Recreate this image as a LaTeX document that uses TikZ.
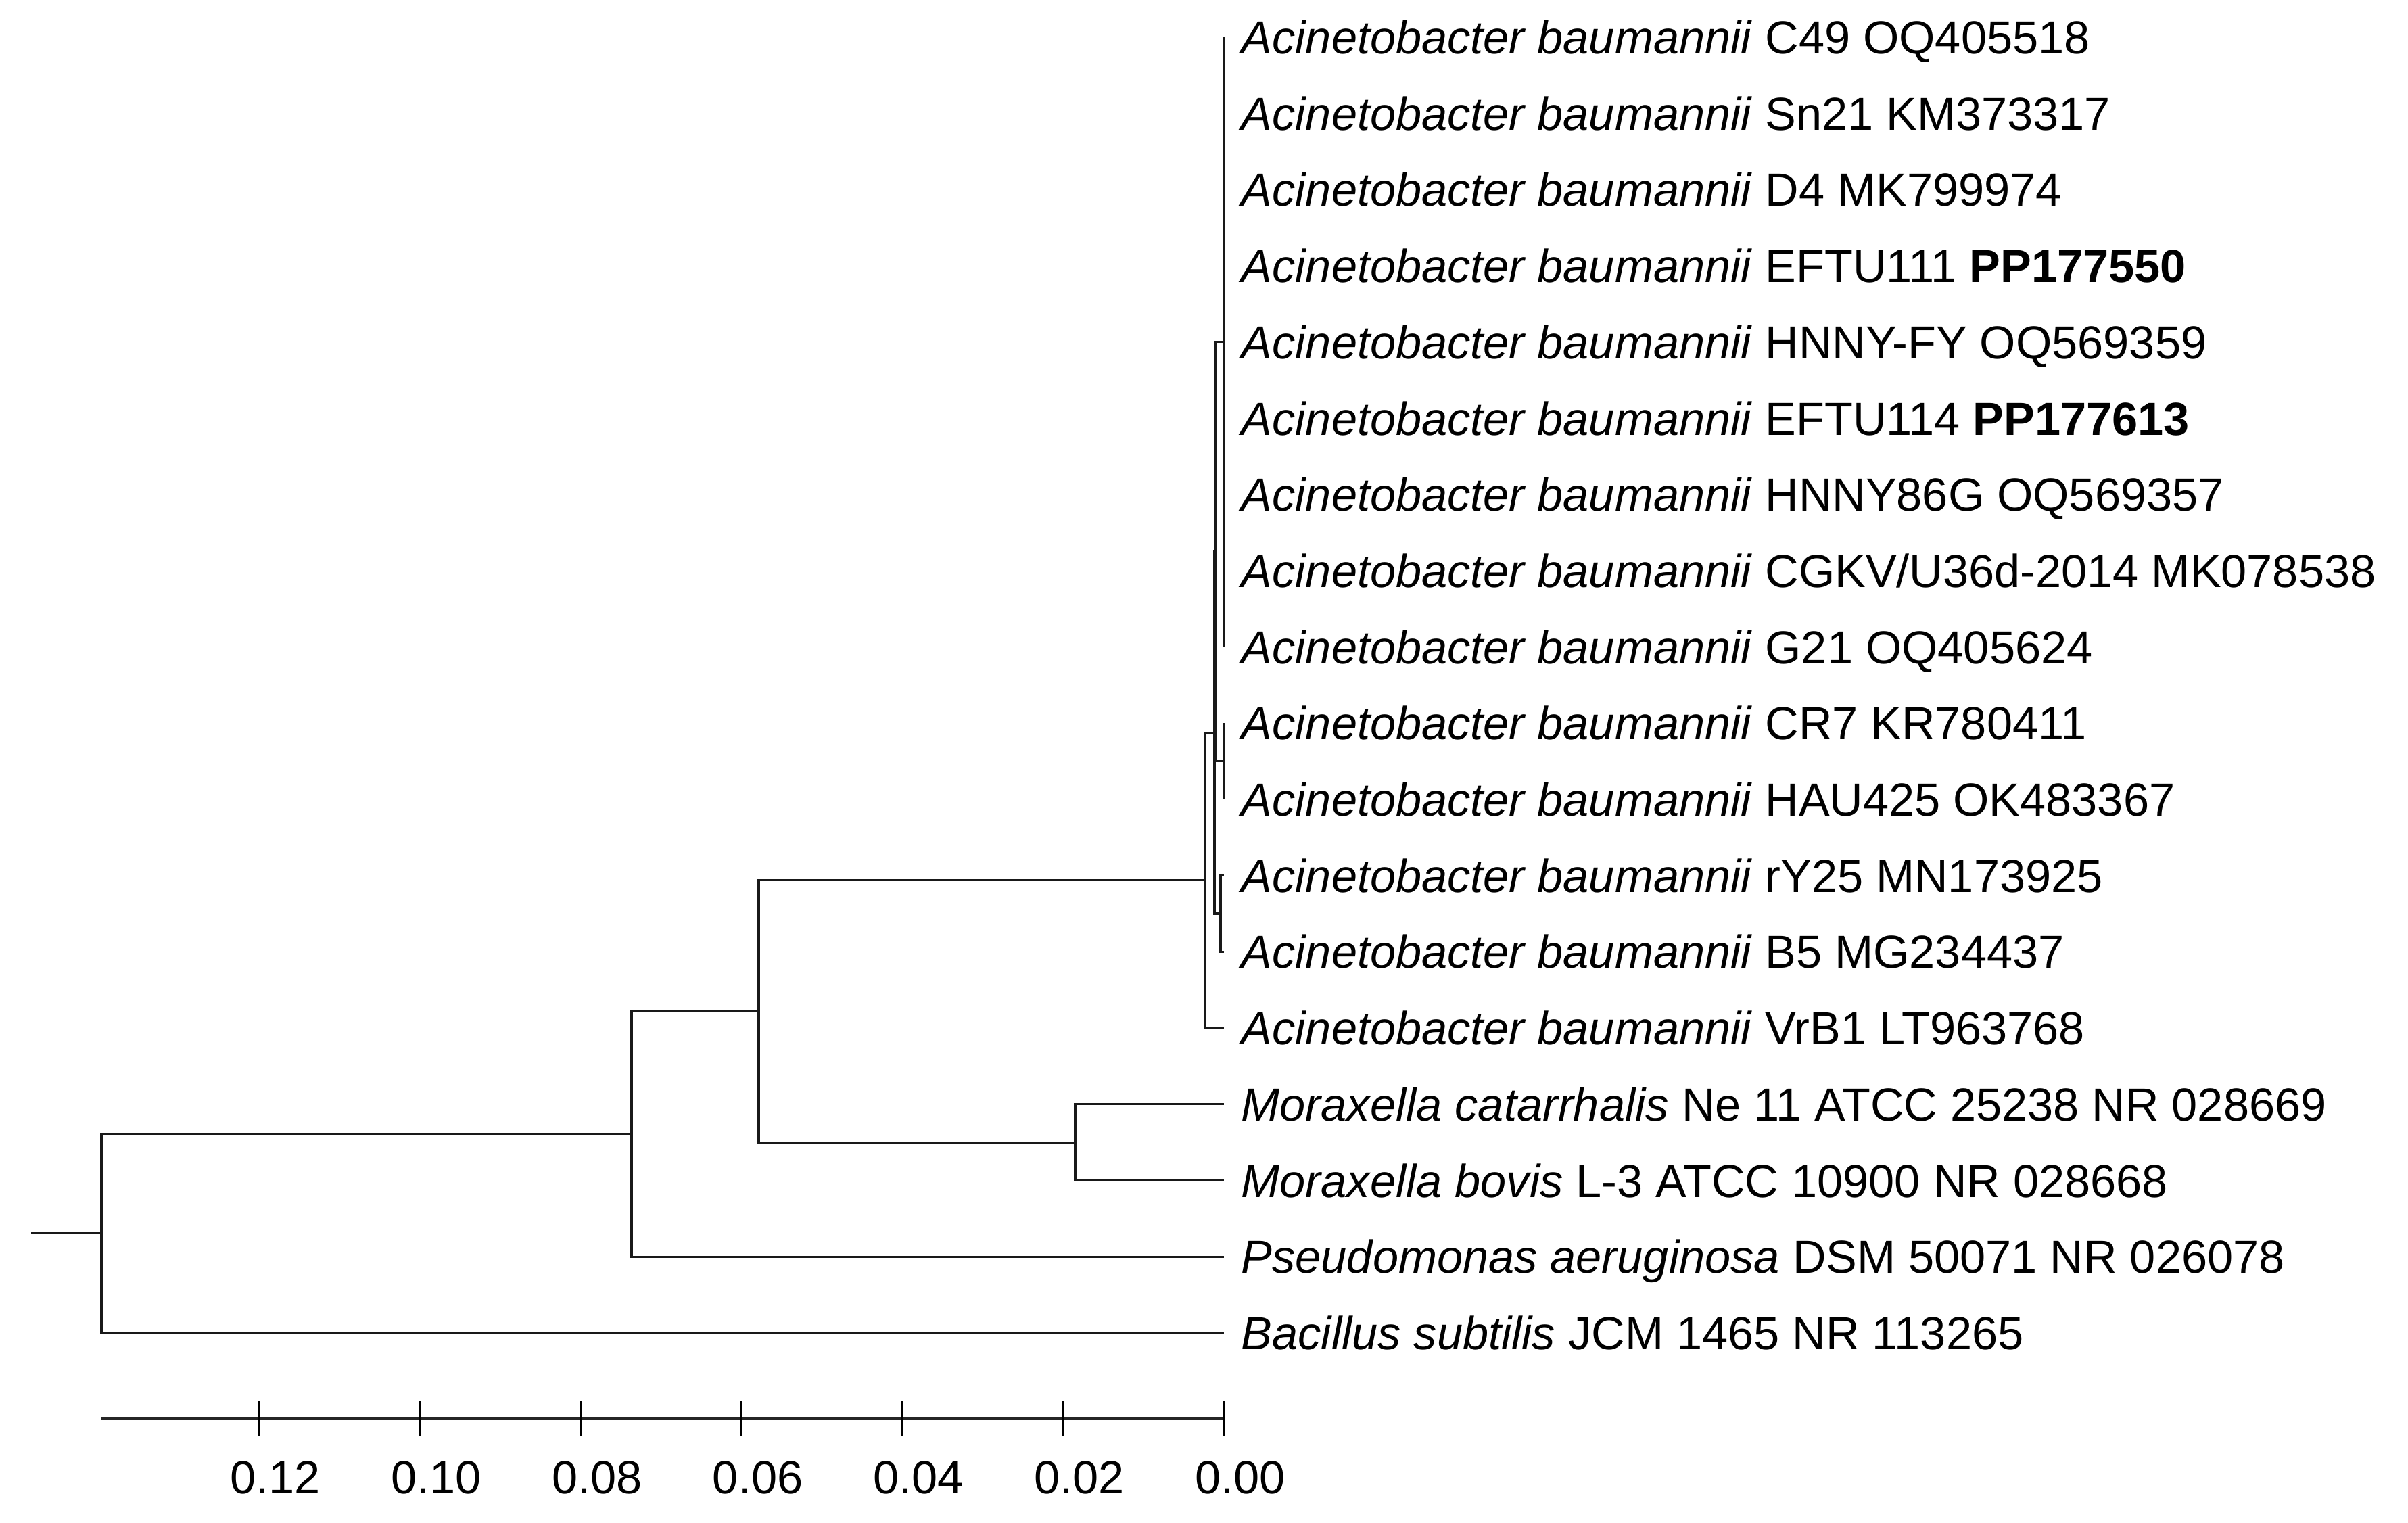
\documentclass[tikz,border=0pt]{standalone}
\usepackage{fontspec}
\setmainfont{Liberation Sans}
\usetikzlibrary{positioning}
\tikzstyle{taxon} = [anchor=west, inner sep=0pt, text height=13.96pt, text depth=0pt, font=\fontsize{19.5}{23}\selectfont]
\tikzstyle{branch_line} = [line width=0.9pt, black!90]
\tikzstyle{scale_bar} = [line width=1.3pt, black!85]
\tikzstyle{scale_tick} = [line width=0.7pt, black]
\tikzstyle{scale_label} = [inner sep=0pt, font=\fontsize{19.5}{23}\selectfont]

\begin{document}
\begin{tikzpicture}
    \useasboundingbox (0,0) rectangle (35.61,-22.52);

    % leaf tips
    \coordinate (t_c49) at (18.10,-0.55);
    \coordinate (t_sn21) at (18.10,-1.677);
    \coordinate (t_d4) at (18.10,-2.804);
    \coordinate (t_eftu111) at (18.10,-3.931);
    \coordinate (t_hnnyfy) at (18.10,-5.058);
    \coordinate (t_eftu114) at (18.10,-6.185);
    \coordinate (t_hnny86g) at (18.10,-7.312);
    \coordinate (t_cgkv) at (18.10,-8.439);
    \coordinate (t_g21) at (18.10,-9.566);
    \coordinate (t_cr7) at (18.10,-10.693);
    \coordinate (t_hau425) at (18.10,-11.82);
    \coordinate (t_ry25) at (18.10,-12.947);
    \coordinate (t_b5) at (18.10,-14.074);
    \coordinate (t_vrb1) at (18.10,-15.201);
    \coordinate (t_mcat) at (18.10,-16.328);
    \coordinate (t_mbov) at (18.10,-17.455);
    \coordinate (t_paer) at (18.10,-18.582);
    \coordinate (t_bsub) at (18.10,-19.709);

    % internal nodes
    \coordinate (n_d) at (18.10,-5.058);
    \coordinate (n_f) at (18.10,-11.2565);
    \coordinate (n_c) at (17.98,-8.157);
    \coordinate (n_e) at (18.05,-13.5105);
    \coordinate (n_b) at (17.96,-10.834);
    \coordinate (n_a) at (17.82,-13.0175);
    \coordinate (n_mor) at (15.90,-16.8915);
    \coordinate (n_2) at (11.22,-14.9545);
    \coordinate (n_1) at (9.34,-16.768);
    \coordinate (n_r) at (1.50,-18.2385);
    \coordinate (root) at (0.46,-18.2385);

    % taxa
    \node (ab_c49) [taxon, right=0.25cm of t_c49] {\textit{Acinetobacter baumannii} C49 OQ405518};
    \node (ab_sn21) [taxon, right=0.25cm of t_sn21] {\textit{Acinetobacter baumannii} Sn21 KM373317};
    \node (ab_d4) [taxon, right=0.25cm of t_d4] {\textit{Acinetobacter baumannii} D4 MK799974};
    \node (ab_eftu111) [taxon, right=0.25cm of t_eftu111] {\textit{Acinetobacter baumannii} EFTU111 \textbf{PP177550}};
    \node (ab_hnnyfy) [taxon, right=0.25cm of t_hnnyfy] {\textit{Acinetobacter baumannii} HNNY-FY OQ569359};
    \node (ab_eftu114) [taxon, right=0.25cm of t_eftu114] {\textit{Acinetobacter baumannii} EFTU114 \textbf{PP177613}};
    \node (ab_hnny86g) [taxon, right=0.25cm of t_hnny86g] {\textit{Acinetobacter baumannii} HNNY86G OQ569357};
    \node (ab_cgkv) [taxon, right=0.25cm of t_cgkv] {\textit{Acinetobacter baumannii} CGKV/U36d-2014 MK078538};
    \node (ab_g21) [taxon, right=0.25cm of t_g21] {\textit{Acinetobacter baumannii} G21 OQ405624};
    \node (ab_cr7) [taxon, right=0.25cm of t_cr7] {\textit{Acinetobacter baumannii} CR7 KR780411};
    \node (ab_hau425) [taxon, right=0.25cm of t_hau425] {\textit{Acinetobacter baumannii} HAU425 OK483367};
    \node (ab_ry25) [taxon, right=0.25cm of t_ry25] {\textit{Acinetobacter baumannii} rY25 MN173925};
    \node (ab_b5) [taxon, right=0.25cm of t_b5] {\textit{Acinetobacter baumannii} B5 MG234437};
    \node (ab_vrb1) [taxon, right=0.25cm of t_vrb1] {\textit{Acinetobacter baumannii} VrB1 LT963768};
    \node (m_cat) [taxon, right=0.25cm of t_mcat] {\textit{Moraxella catarrhalis} Ne 11 ATCC 25238 NR 028669};
    \node (m_bov) [taxon, right=0.25cm of t_mbov] {\textit{Moraxella bovis} L-3 ATCC 10900 NR 028668};
    \node (p_aer) [taxon, right=0.25cm of t_paer] {\textit{Pseudomonas aeruginosa} DSM 50071 NR 026078};
    \node (b_sub) [taxon, right=0.25cm of t_bsub] {\textit{Bacillus subtilis} JCM 1465 NR 113265};

    % branches
    \draw [branch_line] (root) -- (n_r);
    \draw [branch_line] (n_r) |- (n_1);
    \draw [branch_line] (n_r) |- (t_bsub);
    \draw [branch_line] (n_1) |- (n_2);
    \draw [branch_line] (n_1) |- (t_paer);
    \draw [branch_line] (n_2) |- (n_a);
    \draw [branch_line] (n_2) |- (n_mor);
    \draw [branch_line] (n_mor) |- (t_mcat);
    \draw [branch_line] (n_mor) |- (t_mbov);
    \draw [branch_line] (n_a) |- (n_b);
    \draw [branch_line] (n_a) |- (t_vrb1);
    \draw [branch_line] (n_b) |- (n_c);
    \draw [branch_line] (n_b) |- (n_e);
    \draw [branch_line] (n_c) |- (n_d);
    \draw [branch_line] (n_c) |- (n_f);
    \foreach \t in {t_c49,t_sn21,t_d4,t_eftu111,t_hnnyfy,t_eftu114,t_hnny86g,t_cgkv,t_g21}
        \draw [branch_line] (n_d) |- (\t);
    \draw [branch_line] (n_f) |- (t_cr7);
    \draw [branch_line] (n_f) |- (t_hau425);
    \draw [branch_line] (n_e) |- (t_ry25);
    \draw [branch_line] (n_e) |- (t_b5);

    % scale
    \coordinate (axis_left) at (1.50,-20.97);
    \coordinate (axis_right) at (18.10,-20.97);
    \draw [scale_bar] (axis_left) -- (axis_right);
    \foreach \k/\lab in {0/0.00,1/0.02,2/0.04,3/0.06,4/0.08,5/0.10,6/0.12} {
        \coordinate (tick_\k) at ({18.10-2.378*\k},-20.97);
        \draw [scale_tick] ([yshift=0.25cm]tick_\k) -- ([yshift=-0.26cm]tick_\k);
        \node (lab_\k) [scale_label] at ([xshift=0.24cm,yshift=-0.88cm]tick_\k) {\lab};
    }
\end{tikzpicture}
\end{document}
